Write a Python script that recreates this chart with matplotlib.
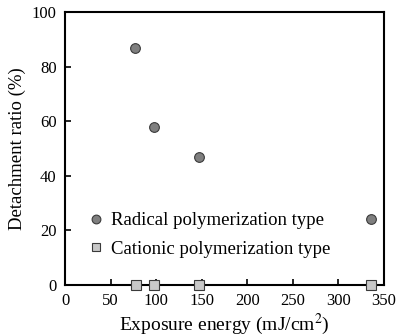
import matplotlib
matplotlib.use('Agg')
import matplotlib.pyplot as plt

plt.rcParams['font.family'] = ['Liberation Serif', 'DejaVu Serif']
plt.rcParams['mathtext.fontset'] = 'stix'

radical_x = [77, 98, 147, 336]
radical_y = [87, 58, 47, 24]
cationic_x = [78, 98, 147, 336]
cationic_y = [0, 0, 0, 0]
xticks = [0, 50, 100, 150, 200, 250, 300, 350]
yticks = [0, 20, 40, 60, 80, 100]

fig = plt.figure(figsize=(4.0, 3.36), dpi=100)
ax = fig.add_axes([0.1625, 0.152, 0.7975, 0.812])

ax.plot(radical_x, radical_y, 'o', color='#7f7f7f', markeredgecolor='#3a3a3a',
        markersize=7, markeredgewidth=0.8, clip_on=False, label='Radical polymerization type')
ax.plot(cationic_x, cationic_y, 's', color='#c8c8c8', markeredgecolor='#3a3a3a',
        markersize=7, markeredgewidth=0.8, clip_on=False, label='Cationic polymerization type', zorder=5)

ax.set_xlim(0, 350)
ax.set_ylim(0, 100)
ax.set_xticks(xticks)
ax.set_yticks(yticks)
ax.tick_params(direction='in', length=4, width=1.2, labelsize=12, pad=6)
for s in ax.spines.values():
    s.set_linewidth(1.5)

ax.set_xlabel('Exposure energy (mJ/cm$^2$)', fontsize=14, labelpad=2)
ax.set_ylabel('Detachment ratio (%)', fontsize=13.5, labelpad=4)

ax.legend(loc='lower left', bbox_to_anchor=(0.045, 0.072), frameon=False, fontsize=13.5,
          handletextpad=0.3, labelspacing=0.6, handlelength=1.0, borderaxespad=0,
          markerscale=0.9)

fig.savefig('out.png', dpi=100)
